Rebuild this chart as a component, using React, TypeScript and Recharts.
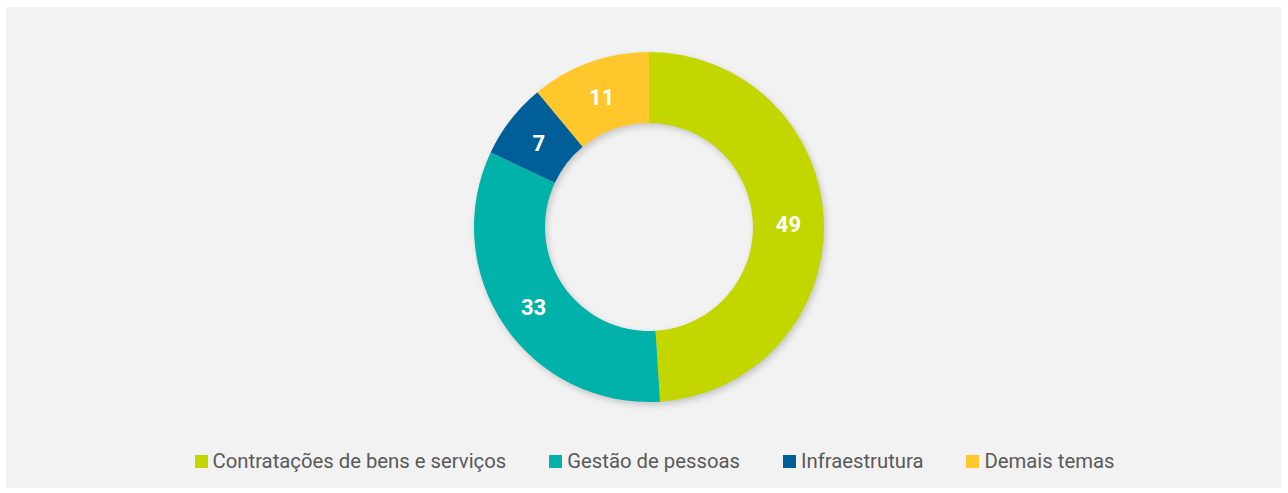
import React from "react";
import { PieChart, Pie, Cell, Legend } from "recharts";

const categories = [
  "Contratações de bens e serviços",
  "Gestão de pessoas",
  "Infraestrutura",
  "Demais temas",
];
const values = [49, 33, 7, 11];
const colors = ["#c3d600", "#00b2a9", "#005f99", "#ffc72c"];

const data = categories.map((name, i) => ({ name, value: values[i] }));

const RADIAN = Math.PI / 180;

const renderLabel = (props: any) => {
  const { cx, cy, midAngle, innerRadius, outerRadius, value } = props;
  const r = (innerRadius + outerRadius) / 2;
  const x = cx + r * Math.cos(-midAngle * RADIAN);
  const y = cy + r * Math.sin(-midAngle * RADIAN) + 2;
  return (
    <text
      x={x}
      y={y}
      fill="#ffffff"
      textAnchor="middle"
      dominantBaseline="central"
      fontFamily="Roboto, sans-serif"
      fontWeight={700}
      fontSize={22}
    >
      {value}
    </text>
  );
};

const renderLegend = () => (
  <div
    style={{
      display: "flex",
      justifyContent: "center",
      alignItems: "center",
      fontFamily: "Roboto, sans-serif",
      fontSize: 20.3,
      color: "#595959",
      paddingLeft: 22,
    }}
  >
    {categories.map((c, i) => (
      <div
        key={c}
        style={{
          display: "flex",
          alignItems: "center",
          marginRight: i < categories.length - 1 ? 43 : 0,
        }}
      >
        <span
          style={{
            width: 13,
            height: 13,
            background: colors[i],
            display: "inline-block",
            marginRight: 5,
          }}
        />
        <span>{c}</span>
      </div>
    ))}
  </div>
);

export default function App() {
  return (
    <div
      style={{
        position: "absolute",
        left: 0,
        top: 0,
        width: 1288,
        height: 493,
        background: "#ffffff",
      }}
    >
      <div
        style={{
          position: "absolute",
          left: 6,
          top: 7,
          width: 1275,
          height: 481,
          background: "#f2f2f2",
        }}
      >
        <PieChart width={1275} height={481}>
          <Pie
            data={data}
            dataKey="value"
            nameKey="name"
            cx={640}
            cy={218}
            innerRadius={104}
            outerRadius={175}
            startAngle={90}
            endAngle={-270}
            stroke="none"
            isAnimationActive={false}
            legendType="none"
          >
            {data.map((d) => (
              <Cell
                key={d.name}
                fill="#000000"
                fillOpacity={0.18}
                style={{ filter: "blur(3px)" }}
              />
            ))}
          </Pie>
          <Pie
            data={data}
            dataKey="value"
            nameKey="name"
            cx={638}
            cy={215}
            innerRadius={104}
            outerRadius={175}
            startAngle={90}
            endAngle={-270}
            stroke="none"
            label={renderLabel}
            labelLine={false}
            isAnimationActive={false}
          >
            {data.map((d, i) => (
              <Cell key={d.name} fill={colors[i]} />
            ))}
          </Pie>
          <Legend
            content={renderLegend}
            wrapperStyle={{ position: "absolute", top: 442, left: 0, width: 1275 }}
          />
        </PieChart>
      </div>
    </div>
  );
}
